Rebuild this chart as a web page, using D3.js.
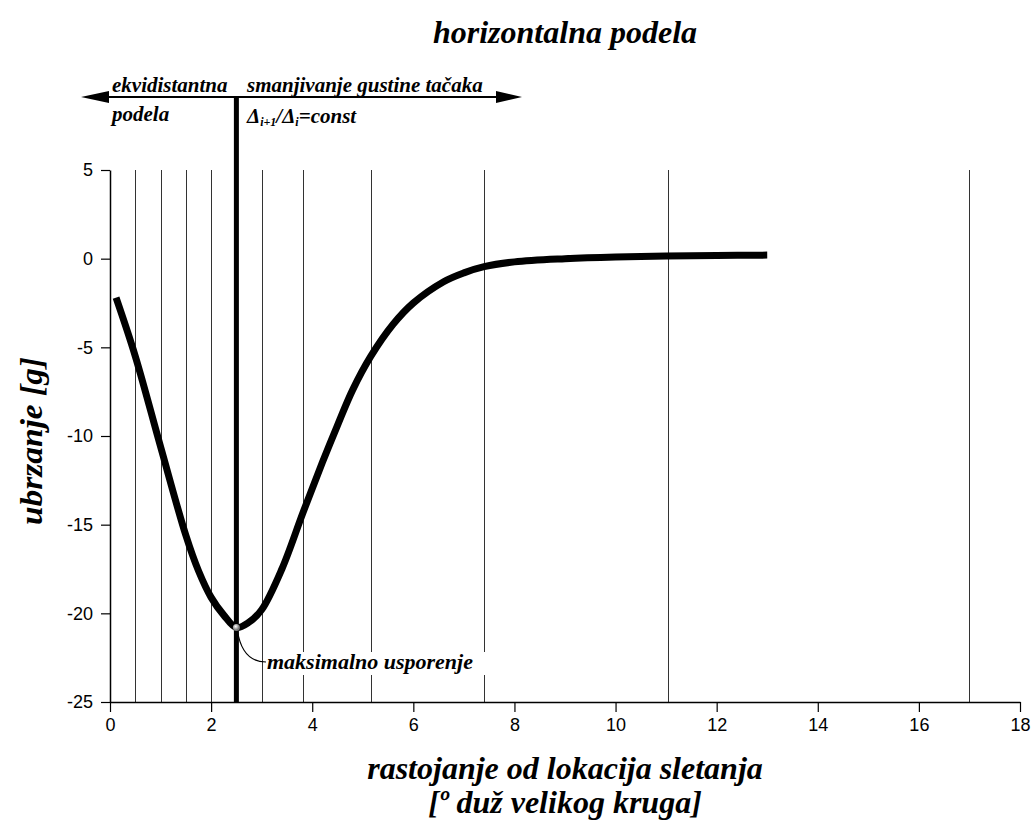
<!DOCTYPE html>
<html>
<head>
<meta charset="utf-8">
<script src="https://cdn.jsdelivr.net/npm/d3@7/dist/d3.min.js"></script>
<style>
  body { margin: 0; background: #fff; }
  svg { display: block; }
  .tick text { font-family: "Liberation Sans", Arial, sans-serif; font-size: 18px; fill: #000; }
</style>
</head>
<body>
<svg id="chart" width="1036" height="825"></svg>
<script>
// ---- data ----
const distance = [0.12, 0.5, 1.0, 1.5, 1.75, 2.0, 2.25, 2.5, 2.75, 3.0, 3.4, 3.82, 4.2, 4.5, 4.8, 5.16, 5.6, 6.0, 6.6, 7.0, 7.4, 8.0, 9.0, 10, 11, 12, 13];
const acceleration = [-2.2, -5.5, -10.6, -15.6, -17.6, -19.1, -20.1, -20.8, -20.5, -19.8, -17.5, -14.3, -11.5, -9.4, -7.4, -5.5, -3.7, -2.5, -1.3, -0.8, -0.45, -0.18, 0.0, 0.1, 0.15, 0.18, 0.2];
const gridLines = [0.5, 1.0, 1.5, 2.0, 3.0, 3.82, 5.16, 7.4, 11.04, 17.0];
const dividerX = 2.5;
const minPoint = [2.5, -20.8];
const xTicks = [0, 2, 4, 6, 8, 10, 12, 14, 16, 18];
const yTicks = [5, 0, -5, -10, -15, -20, -25];
const title = "horizontalna podela";
const yTitle = "ubrzanje [g]";
const xTitle1 = "rastojanje od lokacija sletanja";
const xTitle2 = "[º duž velikog kruga]";
const leftLabel1 = "ekvidistantna";
const leftLabel2 = "podela";
const rightLabel = "smanjivanje gustine tačaka";
const minLabel = "maksimalno usporenje";

const SERIF = "'Liberation Serif', Tinos, 'Times New Roman', serif";

const svg = d3.select("#chart");
const x = d3.scaleLinear().domain([0, 18]).range([110, 1020]);
const y = d3.scaleLinear().domain([-25, 5]).range([702, 170]);

function serifText(sel) {
  return sel.attr("font-family", SERIF).attr("font-weight", "bold").attr("font-style", "italic").attr("fill", "#000");
}

// grid (vertical division lines)
svg.append("g").selectAll("line").data(gridLines).join("line")
  .attr("x1", d => Math.round(x(d)) + 0.5).attr("x2", d => Math.round(x(d)) + 0.5)
  .attr("y1", y(5)).attr("y2", y(-25))
  .attr("stroke", "#333").attr("stroke-width", 1);

// axes
const xAxis = svg.append("g").attr("transform", `translate(0,${y(-25)})`)
  .call(d3.axisBottom(x).tickValues(xTicks).tickFormat(d => String(d)).tickSize(10).tickPadding(6).tickSizeOuter(0));
const yAxis = svg.append("g").attr("transform", `translate(${x(0)},0)`)
  .call(d3.axisLeft(y).tickValues(yTicks).tickFormat(d => String(d)).tickSize(9).tickPadding(8).tickSizeOuter(0));
[xAxis, yAxis].forEach(a => {
  a.selectAll("path").attr("stroke", "#000").attr("stroke-width", 1.5);
  a.selectAll("line").attr("stroke", "#000").attr("stroke-width", 1.2);
});

// arrow line at top
const arrowY = 97;
svg.append("line").attr("x1", 100).attr("x2", 505).attr("y1", arrowY).attr("y2", arrowY)
  .attr("stroke", "#000").attr("stroke-width", 2);
svg.append("path").attr("d", `M81,${arrowY} L109,${arrowY - 6} L109,${arrowY + 6} Z`).attr("fill", "#000");
svg.append("path").attr("d", `M522,${arrowY} L496,${arrowY - 6} L496,${arrowY + 6} Z`).attr("fill", "#000");

// thick divider
svg.append("line").attr("x1", x(dividerX)).attr("x2", x(dividerX))
  .attr("y1", arrowY).attr("y2", y(-25))
  .attr("stroke", "#000").attr("stroke-width", 5);

// curve
const line = d3.line().x(d => x(d[0])).y(d => y(d[1])).curve(d3.curveCatmullRom.alpha(0.5));
svg.append("path").datum(d3.zip(distance, acceleration))
  .attr("d", line).attr("fill", "none").attr("stroke", "#000").attr("stroke-width", 7);

// min label with white background
svg.append("rect").attr("x", 263).attr("y", 652).attr("width", 228).attr("height", 23).attr("fill", "#fff");
svg.append("path")
  .attr("d", `M${x(minPoint[0]) + 1},${y(minPoint[1]) + 3} C${x(minPoint[0]) + 4},650 ${x(minPoint[0]) + 12},662 266,662`)
  .attr("fill", "none").attr("stroke", "#000").attr("stroke-width", 1.2);
const grad = svg.append("defs").append("radialGradient").attr("id", "g1").attr("cx", "40%").attr("cy", "35%");
grad.append("stop").attr("offset", "0%").attr("stop-color", "#fff");
grad.append("stop").attr("offset", "100%").attr("stop-color", "#777");
svg.append("circle").attr("cx", x(minPoint[0])).attr("cy", y(minPoint[1])).attr("r", 3.5)
  .attr("fill", "url(#g1)");
serifText(svg.append("text")).attr("x", 267).attr("y", 669).attr("font-size", 22).text(minLabel);

// annotation labels
serifText(svg.append("text")).attr("x", 112).attr("y", 92).attr("font-size", 21).text(leftLabel1);
serifText(svg.append("text")).attr("x", 112).attr("y", 121).attr("font-size", 21).text(leftLabel2);
serifText(svg.append("text")).attr("x", 247).attr("y", 92).attr("font-size", 21).text(rightLabel);
const ratio = serifText(svg.append("text")).attr("x", 247).attr("y", 123).attr("font-size", 21);
ratio.append("tspan").text("Δ");
ratio.append("tspan").attr("font-size", 12).attr("dy", 3).text("i+1");
ratio.append("tspan").attr("dy", -3).text("/Δ");
ratio.append("tspan").attr("font-size", 12).attr("dy", 3).text("i");
ratio.append("tspan").attr("dy", -3).text("=const");

// titles
serifText(svg.append("text")).attr("x", 565).attr("y", 43).attr("text-anchor", "middle")
  .attr("font-size", 32).text(title);
serifText(svg.append("text")).attr("x", 565).attr("y", 779).attr("text-anchor", "middle")
  .attr("font-size", 32).text(xTitle1);
serifText(svg.append("text")).attr("x", 565).attr("y", 813).attr("text-anchor", "middle")
  .attr("font-size", 32).text(xTitle2);
serifText(svg.append("text")).attr("transform", "translate(42,441) rotate(-90)")
  .attr("text-anchor", "middle").attr("font-size", 31)
  .attr("textLength", 168).attr("lengthAdjust", "spacingAndGlyphs").text(yTitle);
</script>
</body>
</html>
